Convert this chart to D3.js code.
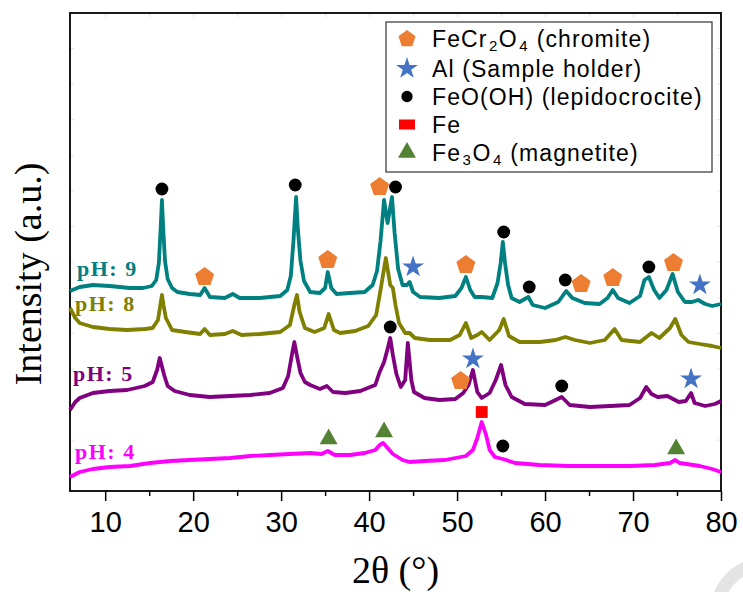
<!DOCTYPE html>
<meta charset="utf-8">
<style>
body { margin: 0; background: #fff; }
svg { font-family: "Liberation Sans", Arial, sans-serif; }
</style>
<body>
<svg width="743" height="592"></svg>
<script src="https://d3js.org/d3.v7.min.js"></script>
<script>

// XRD patterns, [2theta, intensity (a.u., offset included)]
var pH9 = [[6.0,200],[7.1,204],[8.6,206],[10.5,205],[12.8,203],[14.3,203],[15.3,205],[15.8,211],[16.1,228],[16.3,262],[16.45,291],[16.6,262],[16.8,230],[17.1,212],[17.6,203],[18.2,199],[19.6,197],[20.8,196],[21.3,203],[21.9,194],[23.6,193],[24.5,197],[25.3,193],[27.6,193],[29.9,195],[30.7,201],[31.1,215],[31.4,250],[31.7,294],[31.9,262],[32.2,230],[32.6,210],[33.3,199],[34.4,198],[35.0,203],[35.3,219],[35.7,203],[36.3,197],[37.8,198],[39.5,199],[40.4,206],[40.9,220],[41.3,250],[41.7,291],[42.1,268],[42.6,294],[42.9,258],[43.3,222],[43.8,206],[44.3,206],[44.6,209],[45.0,199],[45.8,194],[48.0,193],[49.8,195],[50.5,203],[51.0,214],[51.5,201],[52.0,194],[52.8,194],[54.0,193],[54.6,208],[54.95,228],[55.2,249],[55.45,228],[55.8,206],[56.2,193],[57.1,189],[58.1,194],[58.6,186],[60.0,183],[61.5,189],[62.4,200],[63.1,193],[64.5,188],[66.2,187],[67.1,193],[67.7,201],[68.3,193],[69.6,188],[70.8,195],[71.3,211],[71.8,214],[72.4,201],[73.0,193],[73.8,201],[74.5,217],[75.1,199],[75.9,189],[76.7,189],[77.4,191],[78.2,187],[79.0,185],[80.0,187]];

var pH8 = [[6.0,183],[6.6,173],[7.1,168],[8.6,164],[10.5,162],[12.5,161],[14.5,162],[15.4,163],[16.0,171],[16.25,185],[16.45,196],[16.65,185],[16.9,173],[17.6,161],[19.1,159],[20.8,157],[21.3,162],[21.9,156],[23.6,157],[24.5,160],[25.5,156],[27.6,157],[29.9,159],[31.0,166],[31.5,186],[31.8,196],[32.1,179],[32.7,163],[33.8,159],[34.9,163],[35.4,177],[36.0,161],[36.7,158],[38.4,160],[39.9,165],[40.8,176],[41.3,201],[41.9,233],[42.4,206],[42.7,203],[43.0,186],[43.4,168],[44.1,158],[44.6,158],[45.2,153],[46.9,151],[49.2,151],[50.3,156],[51.0,168],[51.6,153],[52.3,156],[52.8,159],[53.7,151],[54.8,161],[55.3,172],[55.9,155],[57.1,149],[59.4,149],[61.2,151],[62.3,154],[63.4,151],[65.1,148],[66.8,151],[67.9,162],[68.7,151],[70.8,149],[72.1,158],[73.0,153],[74.2,163],[74.8,172],[75.5,156],[76.3,149],[77.6,147],[79.0,145],[80.0,143]];

var pH5 = [[6.0,81],[6.6,89],[7.1,93],[8.6,98],[10.5,100],[12.5,101],[14.5,105],[15.4,109],[15.9,121],[16.2,133],[16.7,116],[17.1,105],[17.9,100],[19.6,96],[21.9,94],[24.2,95],[26.5,96],[28.7,98],[30.2,103],[30.8,115],[31.2,135],[31.5,149],[31.8,135],[32.2,118],[32.7,109],[33.3,106],[34.4,102],[35.2,105],[35.9,99],[37.3,98],[39.0,100],[40.7,106],[41.2,119],[41.7,129],[42.1,142],[42.4,153],[42.7,136],[43.1,117],[43.6,104],[44.1,111],[44.4,148],[44.8,111],[45.1,99],[46.3,93],[48.0,91],[49.8,92],[50.7,98],[51.3,106],[51.8,121],[52.3,99],[52.8,93],[53.7,98],[54.4,111],[55.0,126],[55.5,106],[56.2,94],[57.7,87],[60.0,86],[61.2,91],[61.9,94],[62.8,86],[65.1,84],[67.4,85],[69.6,86],[70.8,93],[71.5,104],[72.1,97],[72.8,94],[73.9,95],[75.2,89],[76.0,90],[76.6,98],[77.0,88],[78.2,85],[79.3,87],[80.0,90]];

var pH4 = [[6.0,14],[7.1,19],[8.6,22],[10.5,24],[12.8,25],[15.1,28],[17.4,30],[19.6,31],[21.9,32],[24.2,33],[26.5,35],[28.7,36],[31.0,37],[33.3,38],[34.6,37],[35.3,40],[36.1,36],[37.8,36],[39.5,38],[40.7,41],[41.2,46],[41.6,48],[42.0,44],[42.7,37],[43.8,31],[44.6,29],[46.3,30],[48.6,31],[51.0,35],[51.8,41],[52.3,53],[52.8,69],[53.3,56],[53.7,41],[54.3,34],[55.2,32],[56.6,28],[59.4,26],[62.8,25],[66.2,25],[69.6,25],[72.5,26],[74.2,28],[74.8,31],[75.3,28],[77.6,25],[79.0,22],[80.0,19]];

var seriesNames = ["pH: 9", "pH: 8", "pH: 5", "pH: 4"];
var seriesColors = ["#008080", "#808000", "#800080", "#ff00ff"];

// phase markers, [2theta, intensity]
var chromiteMarks = [[41.2,304],[21.3,214],[35.3,231],[51.0,226],[64.1,207],[67.7,213],[74.6,228],[50.4,110]];
var alMarks = [[45.0,224],[77.6,206],[51.8,132],[76.6,112]];
var lepidoMarks = [[16.45,302],[31.6,306],[43.0,304],[55.3,259],[58.2,204],[62.3,211],[71.8,224],[42.4,164],[61.9,105],[55.2,45]];
var feMarks = [[52.8,79]];
var magnetiteMarks = [[35.4,52],[41.7,59],[74.9,42]];

var xTicks = [10, 20, 30, 40, 50, 60, 70, 80];

var svg = d3.select("svg");
var margin = {left: 70, top: 13, right: 22, bottom: 101};
var W = 743 - margin.left - margin.right,
    H = 592 - margin.top - margin.bottom;

var x = d3.scaleLinear().domain([6, 80]).range([0, W]);
var y = d3.scaleLinear().domain([0, 478]).range([H, 0]);

// watermark arc, bottom right
svg.append("circle").attr("cx", 765).attr("cy", 612).attr("r", 48)
  .attr("fill", "none").attr("stroke", "#e4e4e4").attr("stroke-width", 13);

var g = svg.append("g").attr("transform", "translate(" + margin.left + "," + margin.top + ")");

// faint inner ticks on left / right / top
var faint = "#e2e2e2";
g.append("g").call(d3.axisLeft(y).tickValues(d3.range(443, 0, -35.6)).tickSize(-4).tickFormat(""))
  .call(function(s) { s.select(".domain").remove(); s.selectAll("line").attr("stroke", faint); });
g.append("g").attr("transform", "translate(" + W + ",0)")
  .call(d3.axisRight(y).tickValues(d3.range(443, 0, -35.6)).tickSize(-4).tickFormat(""))
  .call(function(s) { s.select(".domain").remove(); s.selectAll("line").attr("stroke", faint); });
g.append("g").call(d3.axisTop(x).tickValues(d3.range(10, 80, 5)).tickSize(-4).tickFormat(""))
  .call(function(s) { s.select(".domain").remove(); s.selectAll("line").attr("stroke", faint); });

// bottom axis
g.append("g").attr("transform", "translate(0," + H + ")")
  .call(d3.axisBottom(x).tickValues(d3.range(15, 80, 10)).tickSize(5).tickFormat(""))
  .call(function(s) { s.select(".domain").remove(); s.selectAll("line").attr("stroke-width", 1.5); });
g.append("g").attr("transform", "translate(0," + H + ")")
  .call(d3.axisBottom(x).tickValues(xTicks).tickSize(10).tickPadding(10))
  .call(function(s) {
    s.select(".domain").remove();
    s.selectAll("line").attr("stroke-width", 1.5);
    s.selectAll("text").attr("font-size", 29).attr("font-family", "Liberation Sans, Arial, sans-serif").attr("fill", "#000");
  });

// frame
g.append("rect").attr("width", W).attr("height", H)
  .attr("fill", "none").attr("stroke", "#000").attr("stroke-width", 1.8);

// curves
var line = d3.line().x(function(d) { return x(d[0]); }).y(function(d) { return y(d[1]); });
[pH9, pH8, pH5, pH4].forEach(function(data, i) {
  g.append("path").datum(data).attr("d", line)
    .attr("fill", "none").attr("stroke", seriesColors[i])
    .attr("stroke-width", 3.8).attr("stroke-linejoin", "round");
});

// series labels
var labelPos = [[77, 276], [75, 311], [73, 381], [75, 459]];
seriesNames.forEach(function(n, i) {
  svg.append("text").attr("x", labelPos[i][0]).attr("y", labelPos[i][1])
    .attr("font-family", "Liberation Serif, Times New Roman, serif")
    .attr("font-weight", "bold").attr("font-size", 22).attr("letter-spacing", 1.5)
    .attr("fill", seriesColors[i]).text(n);
});

// symbol shapes
function pentagon(r) {
  var p = d3.range(5).map(function(k) {
    var a = -Math.PI / 2 + k * 2 * Math.PI / 5;
    return [r * Math.cos(a), r * Math.sin(a)];
  });
  return "M" + p.join("L") + "Z";
}
var phases = [
  {data: chromiteMarks, color: "#ed7d31", path: pentagon(10)},
  {data: alMarks, color: "#4472c4", path: d3.symbol(d3.symbolStar, 150)()},
  {data: lepidoMarks, color: "#000", path: d3.symbol(d3.symbolCircle, 130)()},
  {data: feMarks, color: "#ff0000", path: d3.symbol(d3.symbolSquare, 140)()},
  {data: magnetiteMarks, color: "#548235", path: d3.symbol(d3.symbolTriangle, 140)()}
];
phases.forEach(function(p) {
  g.selectAll(null).data(p.data).enter().append("path")
    .attr("transform", function(d) { return "translate(" + x(d[0]) + "," + y(d[1]) + ")"; })
    .attr("d", p.path).attr("fill", p.color);
});

// legend
var leg = svg.append("g").attr("transform", "translate(386,22)");
leg.append("rect").attr("width", 326).attr("height", 150)
  .attr("fill", "#fff").attr("stroke", "#333").attr("stroke-width", 1.2);
var legendRows = [
  [{t: "FeCr"}, {t: "2", s: 1}, {t: "O"}, {t: "4", s: 1}, {t: " (chromite)"}],
  [{t: "Al (Sample holder)"}],
  [{t: "FeO(OH) (lepidocrocite)"}],
  [{t: "Fe"}],
  [{t: "Fe"}, {t: "3", s: 1}, {t: "O"}, {t: "4", s: 1}, {t: " (magnetite)"}]
];
var legendSym = [pentagon(9), d3.symbol(d3.symbolStar, 150)(), d3.symbol(d3.symbolCircle, 100)(),
                 "M-8,-5H8V5H-8Z", d3.symbol(d3.symbolTriangle, 140)()];
legendRows.forEach(function(row, i) {
  var cy = 17 + i * 28 + (i > 0 ? 1.5 : 0);
  leg.append("path").attr("transform", "translate(21," + cy + ")")
    .attr("d", legendSym[i]).attr("fill", phases[i].color);
  var tx = 46;
  row.forEach(function(part, k) {
    if (part.s || (k > 0 && row[k - 1].s)) tx += 1.5;
    var t = leg.append("text").attr("x", tx).attr("y", cy + 8 + (part.s ? 4 : 0))
      .attr("font-size", part.s ? 15 : 23).attr("letter-spacing", part.s ? 0 : 1.1)
      .attr("fill", "#000").style("white-space", "pre").text(part.t);
    tx += t.node().getComputedTextLength();
  });
});

// axis titles
svg.append("text").attr("x", margin.left + W / 2).attr("y", 583)
  .attr("text-anchor", "middle").attr("font-family", "Liberation Serif, Times New Roman, serif")
  .attr("font-size", 38).text("2θ (°)");
svg.append("text").attr("transform", "translate(41," + (margin.top + H / 2 + 22) + ") rotate(-90)")
  .attr("text-anchor", "middle").attr("font-family", "Liberation Serif, Times New Roman, serif")
  .attr("font-size", 38).text("Intensity (a.u.)");

</script>
</body>
